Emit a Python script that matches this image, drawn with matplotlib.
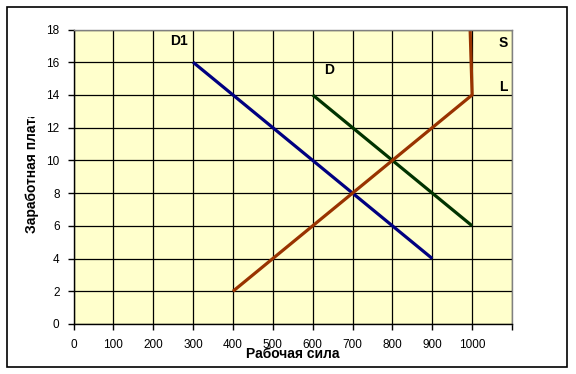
import matplotlib.pyplot as plt
from matplotlib.patches import Rectangle

# data
d1_x = [300, 900]
d1_y = [16, 4]
d_x = [600, 1000]
d_y = [14, 6]
s_x = [400, 1000, 995]
s_y = [2, 14, 18]

x_ticks = list(range(0, 1101, 100))
x_labels = [str(v) for v in x_ticks[:-1]] + ['']
y_ticks = list(range(0, 19, 2))

plt.rcParams['font.family'] = ['Liberation Sans', 'DejaVu Sans']

W, H = 576, 374
fig = plt.figure(figsize=(W / 100, H / 100), dpi=100)
fig.patch.set_facecolor('white')

# outer frame
fig.patches.append(Rectangle((6.5 / W, 1 - 367 / H), 560 / W, 360.5 / H,
                             transform=fig.transFigure, fill=False,
                             edgecolor='black', linewidth=1.2))

ax = fig.add_axes([73.5 / W, 1 - 324 / H, 438.5 / W, 294.5 / H])
ax.set_facecolor('#FFFFCC')

ax.plot(d1_x, d1_y, color='#000080', lw=2.3, solid_capstyle='butt')
ax.plot(d_x, d_y, color='#003300', lw=2.3, solid_capstyle='butt')
ax.plot(s_x, s_y, color='#993300', lw=2.3, solid_capstyle='butt')

ax.set_xlim(0, 1100)
ax.set_ylim(0, 18)
ax.set_xticks(x_ticks)
ax.set_xticklabels(x_labels)
ax.set_yticks(y_ticks)
ax.tick_params(labelsize=8.5, length=4, width=1, color='black')
ax.tick_params(axis='x', pad=7)
ax.tick_params(axis='y', pad=6)
ax.grid(True, color='black', linewidth=0.9)
ax.set_axisbelow(True)

for side in ['left', 'bottom']:
    ax.spines[side].set_color('black')
    ax.spines[side].set_linewidth(1)
for side in ['top', 'right']:
    ax.spines[side].set_color('#808080')
    ax.spines[side].set_linewidth(1)

ax.text(265, 17.3, 'D1', fontsize=10, fontweight='bold', ha='center', va='center')
ax.text(640, 15.5, 'D', fontsize=10, fontweight='bold', ha='center', va='center')
ax.text(1078, 17.2, 'S', fontsize=10, fontweight='bold', ha='center', va='center')
ax.text(1078, 14.5, 'L', fontsize=10, fontweight='bold', ha='center', va='center')

fig.text(0.5 * (73.5 + 512) / W, 1 - 354 / H, 'Рабочая сила', fontsize=10,
         fontweight='bold', ha='center', va='center')

# y label is cut off at the top, as in the original
yl = fig.text(32 / W, 1 - 233 / H, 'Заработная плата', fontsize=10,
              fontweight='bold', rotation=90, ha='center', va='bottom')
clip = Rectangle((0, 0), 1, 1 - 117 / H, transform=fig.transFigure)
yl.set_clip_path(clip)
yl.set_clip_on(True)

fig.savefig('out.png', dpi=100)
